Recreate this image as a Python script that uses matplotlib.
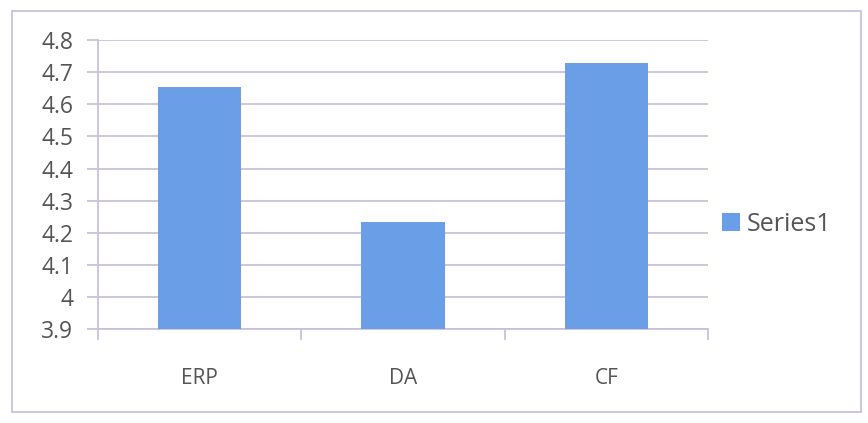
import numpy as np
import matplotlib.pyplot as plt
from matplotlib.patches import Rectangle

categories = ['ERP', 'DA', 'CF']
values = [4.655, 4.235, 4.73]
series_name = 'Series1'

bar_color = '#6a9fe8'
grid_color = '#c9c1dc'
text_color = '#555555'

plt.rcParams['font.family'] = ['Open Sans', 'DejaVu Sans']

fig = plt.figure(figsize=(8.68, 4.23), dpi=100)
ax = fig.add_axes([0.113, 0.222, 0.703, 0.683])

x = np.arange(len(categories))
bars = ax.bar(x, values, width=0.41, color=bar_color, label=series_name, zorder=3)

ax.set_ylim(3.9, 4.8)
ax.set_xlim(-0.5, len(categories) - 0.5)
ax.set_yticks(np.arange(3.9, 4.81, 0.1))
ax.set_yticklabels(['3.9', '4', '4.1', '4.2', '4.3', '4.4', '4.5', '4.6', '4.7', '4.8'])
ax.yaxis.grid(True, color=grid_color, linewidth=1.3, zorder=0)

# excel style: category ticks sit between the bars
ax.set_xticks(x)
ax.set_xticklabels(categories)
ax.set_xticks(np.arange(-0.5, len(categories), 1), minor=True)
ax.tick_params(axis='x', which='major', length=0, pad=28, labelsize=15, labelcolor=text_color)
ax.tick_params(axis='x', which='minor', length=8, color=grid_color, width=1.3)
ax.tick_params(axis='y', length=8, color=grid_color, width=1.3, labelsize=16.5,
               labelcolor=text_color, pad=10)

for s in ['top', 'right']:
    ax.spines[s].set_visible(False)
for s in ['left', 'bottom']:
    ax.spines[s].set_color(grid_color)
    ax.spines[s].set_linewidth(1.3)

leg = fig.legend(handles=[bars], labels=[series_name], loc='center left',
                 bbox_to_anchor=(0.806, 0.47), frameon=False, fontsize=18,
                 handlelength=0.7, handleheight=0.7, handletextpad=0.3)
for t in leg.get_texts():
    t.set_color(text_color)

# chart border
fig.patches.append(Rectangle((0.014, 0.025), 0.978, 0.948, transform=fig.transFigure,
                             fill=False, edgecolor=grid_color, linewidth=1.3))

fig.savefig('out.png', dpi=100, facecolor='white')
